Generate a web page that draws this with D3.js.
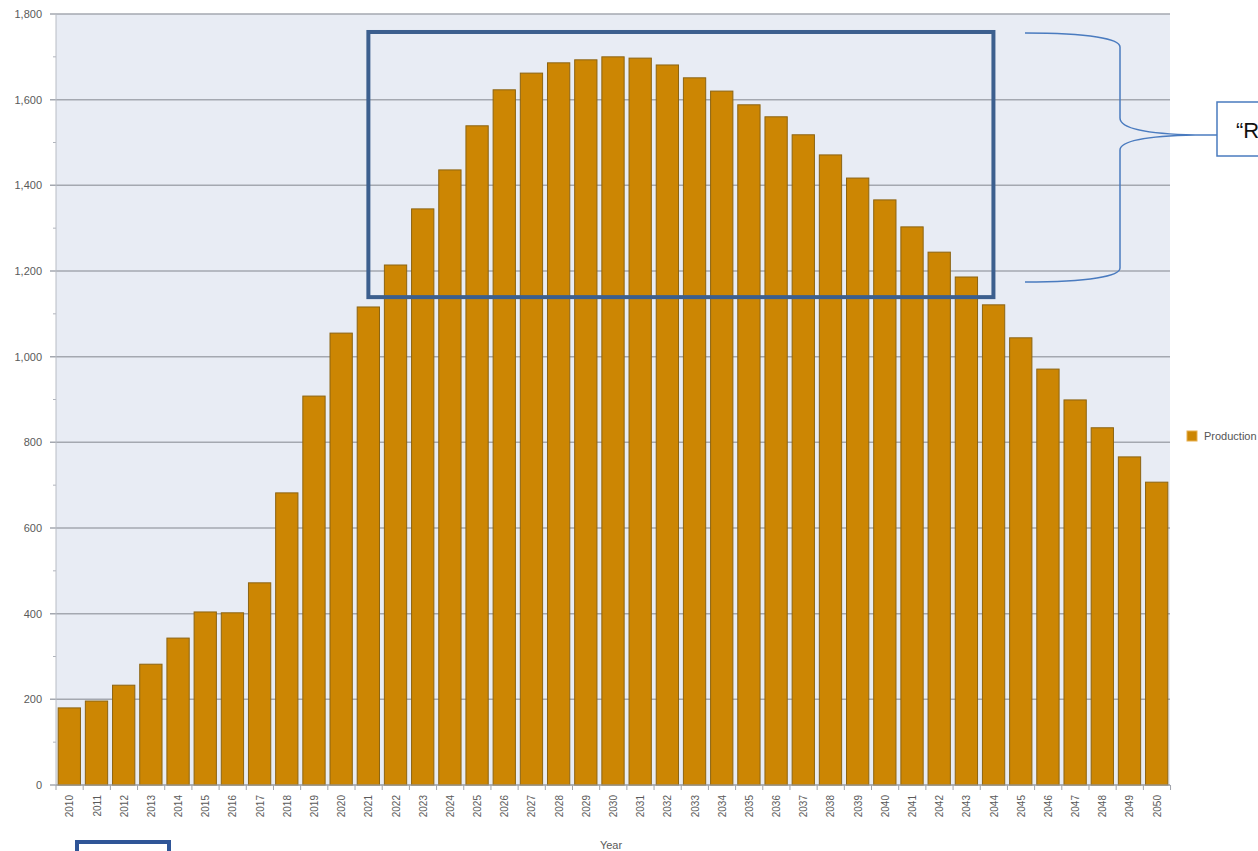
<!DOCTYPE html>
<html><head><meta charset="utf-8">
<script src="https://cdn.jsdelivr.net/npm/d3@7"></script>
<style>body{margin:0;background:#fff;overflow:hidden}svg{display:block}</style>
</head><body>
<script>
const years = d3.range(2010, 2051).map(String);
const production = [180,196,233,282,343,404,402,472,682,908,1055,1116,1214,1345,1436,1539,1623,1662,1686,1693,1700,1697,1681,1651,1620,1588,1560,1518,1471,1417,1366,1303,1244,1186,1121,1044,971,899,834,766,707];
const yTicks = [0,200,400,600,800,1000,1200,1400,1600,1800];
const seriesName = "Production";
const calloutText = "\u201CR";

(function () {
const W = 1258, H = 851;
const svg = d3.select("body").append("svg").attr("width", W).attr("height", H);
const L = 56, R = 1170, T = 14, B = 785;
const x = d3.scaleBand().domain(years).range([L, R]).paddingInner(0.18).paddingOuter(0.08);
const y = d3.scaleLinear().domain([0, 1800]).range([B, T]);
const font = "Liberation Sans, Arial, sans-serif";

svg.append("rect").attr("x", L).attr("y", T).attr("width", R - L).attr("height", B - T).attr("fill", "#e8ecf4");

// gridlines
svg.append("g").selectAll("line").data(yTicks).join("line")
  .attr("x1", L - 6).attr("x2", R).attr("y1", d => y(d)).attr("y2", d => y(d))
  .attr("stroke", "#a4a8b0").attr("stroke-width", 1.5);
// minor ticks
svg.append("g").selectAll("line").data(d3.range(100, 1800, 200)).join("line")
  .attr("x1", L - 3).attr("x2", L).attr("y1", d => y(d)).attr("y2", d => y(d))
  .attr("stroke", "#b0b4bc").attr("stroke-width", 1);
svg.append("line").attr("x1", L).attr("x2", L).attr("y1", T).attr("y2", B).attr("stroke", "#b8bcc4");

// y labels
svg.append("g").selectAll("text").data(yTicks).join("text")
  .attr("x", 42).attr("y", d => y(d) + 4).attr("text-anchor", "end")
  .attr("font-family", font).attr("font-size", 11).attr("fill", "#5a5a5a")
  .text(d => d3.format(",")(d));

// bars
svg.append("g").selectAll("rect").data(production).join("rect")
  .attr("x", (d, i) => x(years[i])).attr("width", x.bandwidth())
  .attr("y", d => y(d)).attr("height", d => B - y(d))
  .attr("fill", "#cc8603").attr("stroke", "#8c6412").attr("stroke-width", 1);

// x axis ticks
const step = x.step();
svg.append("g").selectAll("line").data(d3.range(years.length + 1)).join("line")
  .attr("x1", i => L + i * step).attr("x2", i => L + i * step)
  .attr("y1", B).attr("y2", B + 5).attr("stroke", "#a0a4ac");
svg.append("line").attr("x1", L).attr("x2", R).attr("y1", B).attr("y2", B).attr("stroke", "#a0a4ac");

// x labels
svg.append("g").selectAll("text").data(years).join("text")
  .attr("transform", d => `translate(${x(d) + x.bandwidth() / 2 + 4},795) rotate(-90)`)
  .attr("text-anchor", "end")
  .attr("font-family", font).attr("font-size", 10).attr("fill", "#5a5a5a")
  .text(d => d);

svg.append("text").attr("x", 611).attr("y", 849).attr("text-anchor", "middle")
  .attr("font-family", font).attr("font-size", 11).attr("fill", "#5a5a5a").text("Year");

// legend
svg.append("rect").attr("x", 1187).attr("y", 431).attr("width", 10).attr("height", 10).attr("fill", "#cc8603").attr("stroke", "#e8b050");
svg.append("text").attr("x", 1204).attr("y", 440)
  .attr("font-family", font).attr("font-size", 11).attr("fill", "#555").text(seriesName);

// highlight rectangle
const hx0 = x("2022") - 16, hx1 = x("2044") + 11;
svg.append("rect").attr("x", hx0).attr("y", y(1758)).attr("width", hx1 - hx0)
  .attr("height", y(1139) - y(1758)).attr("fill", "none").attr("stroke", "#3c5f8e").attr("stroke-width", 4);

// bracket
const bx = 1120, bTop = 33, bBot = 282, mid = 135;
const path = `M1025,${bTop} C1090,${bTop} ${bx},${bTop + 6} ${bx},${bTop + 14} L${bx},${mid - 17} C${bx},${mid - 6} 1150,${mid - 1} 1195,${mid}
 M1195,${mid} C1150,${mid + 1} ${bx},${mid + 5} ${bx},${mid + 15} L${bx},${bBot - 14} C${bx},${bBot - 6} 1090,${bBot} 1025,${bBot}`;
svg.append("path").attr("d", path).attr("fill", "none").attr("stroke", "#4a7bbf").attr("stroke-width", 1.5);
svg.append("line").attr("x1", 1195).attr("x2", 1217).attr("y1", mid).attr("y2", mid).attr("stroke", "#4a7bbf").attr("stroke-width", 1.5);
svg.append("rect").attr("x", 1217).attr("y", 102).attr("width", 100).attr("height", 54).attr("fill", "#fff").attr("stroke", "#4a7bbf").attr("stroke-width", 1.5);
svg.append("text").attr("x", 1236).attr("y", 138).attr("font-family", font).attr("font-size", 22).attr("fill", "#111").text(calloutText);

// bottom-left box
svg.append("rect").attr("x", 77).attr("y", 842).attr("width", 92).attr("height", 30).attr("fill", "#fff").attr("stroke", "#2f5597").attr("stroke-width", 4);
})();
</script>
</body></html>
